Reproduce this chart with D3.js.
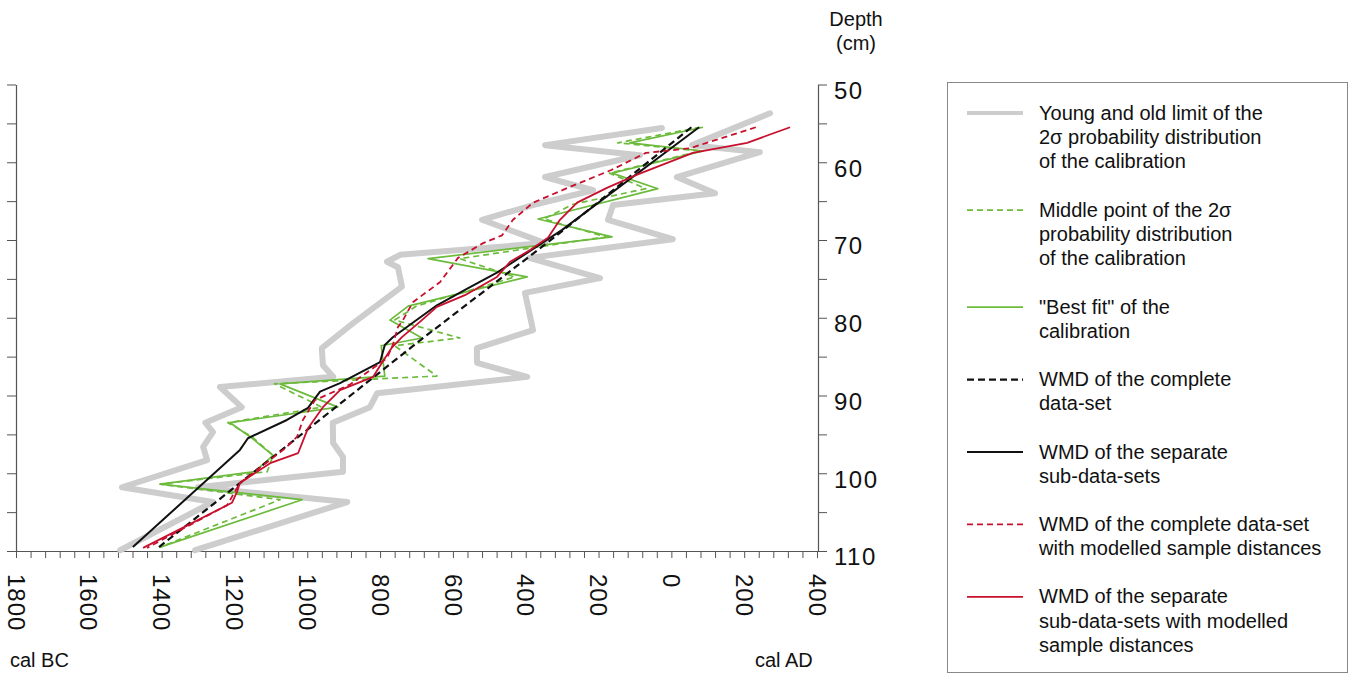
<!DOCTYPE html>
<html>
<head>
<meta charset="utf-8">
<script src="https://cdn.jsdelivr.net/npm/d3@7"></script>
<style>
  html, body { margin: 0; padding: 0; background: #fff; }
  svg { display: block; font-family: "Liberation Sans", Arial, Helvetica, sans-serif; }
</style>
</head>
<body>
<svg id="chart" width="1354" height="676"></svg>
<script>
// ---- data: [depth (cm), calendar year (negative = BC)] ----
const grayYoung = [
  [53.7, 271], [57.8, 57], [58.7, 243], [61.9, 15], [64.0, 120], [65.5, -160],
  [67.4, -174], [69.9, 4], [72.3, -390], [74.9, -196], [76.8, -402], [81.6, -380],
  [83.9, -534], [85.8, -534], [87.6, -396], [89.7, -808], [91.5, -828], [93.5, -930],
  [96.1, -929], [97.9, -902], [99.8, -902], [101.8, -1300], [103.7, -890], [109.9, -1308]
];
const grayOld = [
  [55.6, -26], [57.8, -347], [59.1, -86], [61.9, -347], [63.6, -215], [65.5, -380],
  [67.4, -520], [70.4, -347], [71.9, -745], [72.8, -781], [73.5, -751], [76.0, -740],
  [80.7, -874], [83.9, -960], [86.1, -957], [87.6, -929], [88.9, -1240], [91.5, -1180],
  [93.5, -1280], [94.7, -1259], [96.6, -1286], [98.3, -1275], [101.8, -1509], [103.7, -1259],
  [109.9, -1514]
];
const greenMid = [
  [55.5, 80], [57.5, -147], [58.55, 80], [61.4, -170], [63.4, -70], [65.4, -270],
  [67.3, -350], [69.6, -180], [72.4, -581], [74.75, -430], [78.5, -700], [80.3, -760],
  [82.6, -581], [83.6, -760], [87.5, -644], [88.5, -1090], [91.5, -960], [93.5, -1218],
  [95.3, -1152], [97.7, -1094], [99.8, -1110], [101.4, -1404], [103.4, -1075], [109.5, -1404]
];
const greenBest = [
  [55.5, 87], [57.5, -114], [58.55, 87], [61.4, -163], [63.4, -37], [67.3, -366],
  [69.6, -163], [72.4, -668], [74.75, -396], [78.5, -723], [80.3, -773], [82.6, -685],
  [83.6, -797], [87.5, -787], [88.5, -1075], [91.5, -916], [93.5, -1212], [95.3, -1157],
  [97.7, -1094], [99.8, -1144], [101.4, -1404], [103.4, -1014], [109.5, -1404]
];
const wmdComplete = [
  [55.5, 55], [69.6, -320], [82.9, -690], [97.0, -1070], [109.6, -1410]
];
const wmdSeparate = [
  [55.5, 76], [68.7, -300], [74.2, -479], [76.2, -558], [78.4, -644], [82.5, -765],
  [83.5, -787], [85.7, -800], [88.4, -910], [89.5, -965], [91.6, -998], [93.15, -1056],
  [95.5, -1163], [97.0, -1185], [109.5, -1479]
];
const wmdCompleteModel = [
  [55.5, 232], [58.2, 51], [58.8, -70], [61.0, -165], [63.0, -270], [65.2, -380],
  [67.4, -435], [69.4, -465], [70.4, -517], [72.3, -586], [75.4, -635], [78.0, -710],
  [80.3, -737], [81.2, -751], [83.5, -765], [85.2, -781], [88.6, -883], [90.6, -979],
  [93.15, -1012], [95.3, -1028], [96.8, -1061], [101.25, -1185], [104.1, -1220], [109.6, -1440]
];
const wmdSeparateModel = [
  [55.5, 326], [57.5, 208], [58.8, 59], [61.6, -94], [63.3, -177], [65.2, -259],
  [67.4, -306], [69.7, -339], [71.3, -388], [72.8, -443], [74.75, -479], [77.1, -567],
  [78.6, -644], [80.5, -690], [82.5, -740], [83.8, -767], [85.8, -795], [87.6, -819],
  [89.3, -910], [91.5, -957], [94.2, -998], [97.4, -1025], [98.7, -1102], [101.25, -1185],
  [102.4, -1193], [103.8, -1207], [109.6, -1451]
];

const xTickLabels = [-1800, -1600, -1400, -1200, -1000, -800, -600, -400, -200, 0, 200, 400];
const depthLabels = [50, 60, 70, 80, 90, 100, 110];

const legendItems = [
  { lines: ["Young and old limit of the", "2\u03c3 probability distribution", "of the calibration"], key: "gray" },
  { lines: ["Middle point of the 2\u03c3", "probability distribution", "of the calibration"], key: "greenDash" },
  { lines: ["\"Best fit\" of the", "calibration"], key: "green" },
  { lines: ["WMD of the complete", "data-set"], key: "blackDash" },
  { lines: ["WMD of the separate", "sub-data-sets"], key: "black" },
  { lines: ["WMD of the complete data-set", "with modelled sample distances"], key: "redDash" },
  { lines: ["WMD of the separate", "sub-data-sets with modelled", "sample distances"], key: "red" }
];

// ---- styles ----
const GREEN = "#6cbb3c", RED = "#c8102e", GRAY = "#cdcdcd";
const styles = {
  gray:      { stroke: GRAY,  width: 6,   dash: null },
  greenDash: { stroke: GREEN, width: 1.7, dash: "6,4" },
  green:     { stroke: GREEN, width: 1.7, dash: null },
  blackDash: { stroke: "#111", width: 2.2, dash: "7,4" },
  black:     { stroke: "#111", width: 2.0, dash: null },
  redDash:   { stroke: RED,   width: 1.8, dash: "6,4" },
  red:       { stroke: RED,   width: 1.8, dash: null }
};

const svg = d3.select("#chart");
const x = d3.scaleLinear().domain([-1800, 400]).range([16, 817]);
const y = d3.scaleLinear().domain([50, 110]).range([84.5, 551]);

// ---- axes ----
const axisColor = "#555";
const gBottom = svg.append("g").attr("transform", "translate(0,551)")
  .call(d3.axisBottom(x).tickValues(d3.range(-1800, 401, 40)).tickSize(7).tickSizeOuter(0).tickFormat(""));
const gLeft = svg.append("g").attr("transform", "translate(16,0)")
  .call(d3.axisLeft(y).tickValues(d3.range(50, 111, 5)).tickSize(9).tickSizeOuter(0).tickFormat(""));
const gRight = svg.append("g").attr("transform", "translate(818,0)")
  .call(d3.axisRight(y).tickValues(d3.range(50, 111, 5)).tickSize(9).tickSizeOuter(0).tickFormat(""));
[gBottom, gLeft, gRight].forEach(g => {
  g.selectAll("path.domain").attr("stroke", axisColor).attr("stroke-width", 1.2);
  g.selectAll(".tick line").attr("stroke", axisColor).attr("stroke-width", 1);
});

// x tick labels (rotated)
svg.append("g").selectAll("text").data(xTickLabels).join("text")
  .attr("transform", d => `translate(${x(d)},574) rotate(90)`)
  .attr("dy", "0.35em")
  .attr("font-size", 24)
  .attr("letter-spacing", 1)
  .attr("fill", "#111")
  .text(d => Math.abs(d));

// depth labels
svg.append("g").selectAll("text").data(depthLabels).join("text")
  .attr("x", 834).attr("y", d => y(d) + 6)
  .attr("dy", "0.35em")
  .attr("font-size", 24)
  .attr("letter-spacing", 1.5)
  .attr("fill", "#111")
  .text(d => d);

svg.append("text").attr("x", 856).attr("y", 26).attr("text-anchor", "middle")
  .attr("font-size", 20).attr("fill", "#111").text("Depth");
svg.append("text").attr("x", 856).attr("y", 50).attr("text-anchor", "middle")
  .attr("font-size", 20).attr("fill", "#111").text("(cm)");
svg.append("text").attr("x", 10).attr("y", 667)
  .attr("font-size", 20).attr("fill", "#111").text("cal BC");
svg.append("text").attr("x", 755).attr("y", 667)
  .attr("font-size", 20).attr("fill", "#111").text("cal AD");

// ---- lines ----
const line = d3.line().x(d => x(d[1])).y(d => y(d[0]));
const series = [
  [grayOld, "gray"], [grayYoung, "gray"],
  [greenMid, "greenDash"], [greenBest, "green"],
  [wmdComplete, "blackDash"], [wmdSeparate, "black"],
  [wmdCompleteModel, "redDash"], [wmdSeparateModel, "red"]
];
const gLines = svg.append("g");
series.forEach(([data, key]) => {
  const s = styles[key];
  gLines.append("path").datum(data)
    .attr("d", line)
    .attr("fill", "none")
    .attr("stroke", s.stroke)
    .attr("stroke-width", s.width)
    .attr("stroke-dasharray", s.dash)
    .attr("stroke-linejoin", "round")
    .attr("stroke-linecap", key === "gray" ? "round" : "butt");
});

// ---- legend ----
const lg = svg.append("g");
lg.append("rect").attr("x", 947.5).attr("y", 82.5).attr("width", 400).attr("height", 590)
  .attr("fill", "#fff").attr("stroke", "#888").attr("stroke-width", 1);
let base = 119.5;
const lh = 24.2;
legendItems.forEach((it, i) => {
  const s = styles[it.key];
  lg.append("line").attr("x1", 967).attr("x2", 1023)
    .attr("y1", base - 6.5).attr("y2", base - 6.5)
    .attr("stroke", s.stroke)
    .attr("stroke-width", it.key === "gray" ? 4 : s.width)
    .attr("stroke-dasharray", s.dash);
  const t = lg.append("text").attr("x", 1039).attr("y", base)
    .attr("font-size", 20).attr("fill", "#111");
  it.lines.forEach((ln, j) => {
    t.append("tspan").attr("x", 1039).attr("y", base + j * lh).text(ln);
  });
  base += it.lines.length * lh + (it.lines.length === 3 ? 24.5 : 24);
});
</script>
</body>
</html>
